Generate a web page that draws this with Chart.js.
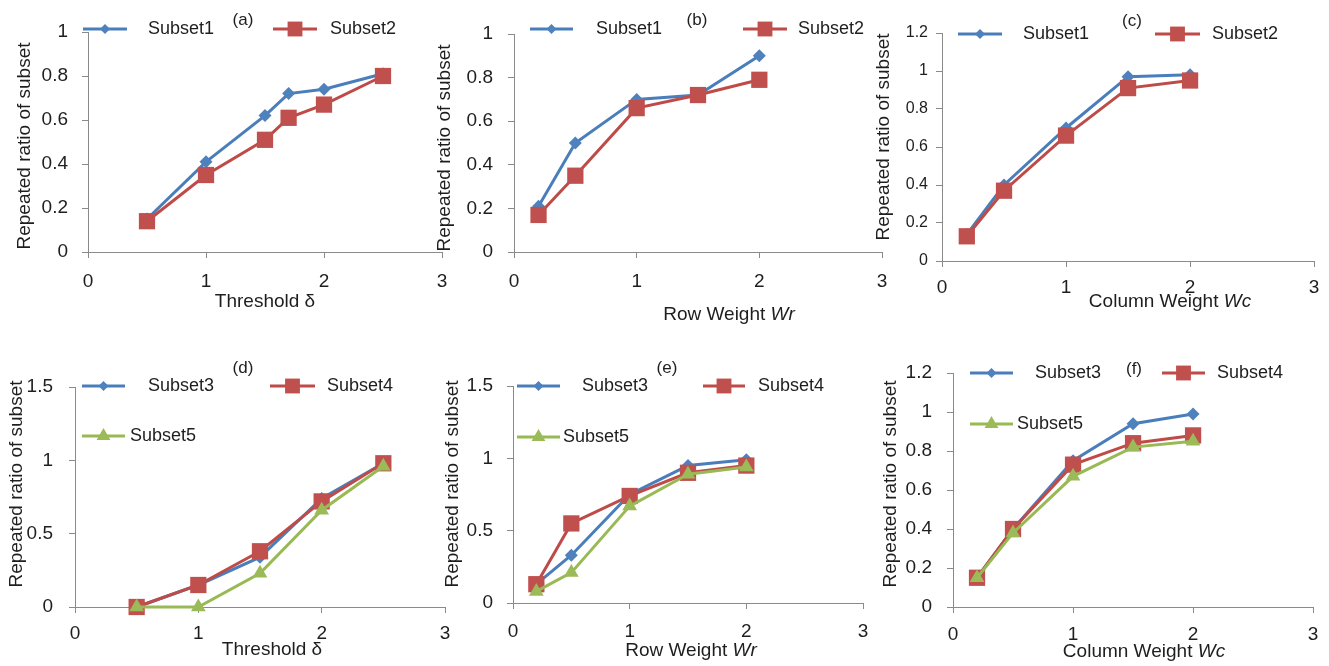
<!DOCTYPE html>
<html>
<head>
<meta charset="utf-8">
<script src="https://cdn.jsdelivr.net/npm/chart.js@4.4.1/dist/chart.umd.min.js"></script>
<style>
html,body{margin:0;padding:0;background:#fff;}
body{width:1329px;height:666px;position:relative;overflow:hidden;}
canvas{position:absolute;left:0;top:0;}
</style>
</head>
<body>
<canvas id="ca" width="1329" height="666"></canvas>
<canvas id="cb" width="1329" height="666"></canvas>
<canvas id="cc" width="1329" height="666"></canvas>
<canvas id="cd" width="1329" height="666"></canvas>
<canvas id="ce" width="1329" height="666"></canvas>
<canvas id="cf" width="1329" height="666"></canvas>
<script>
// ---------- data ----------
const xTicks = [0, 1, 2, 3];
const yTicksA = [0, 0.2, 0.4, 0.6, 0.8, 1];
const yTicksC = [0, 0.2, 0.4, 0.6, 0.8, 1, 1.2];
const yTicksD = [0, 0.5, 1, 1.5];

const thresholdA = [0.5, 1, 1.5, 1.7, 2, 2.5];
const aSubset1 = [0.15, 0.41, 0.62, 0.72, 0.74, 0.81];
const aSubset2 = [0.14, 0.35, 0.51, 0.61, 0.67, 0.80];

const rowWeightB = [0.2, 0.5, 1, 1.5, 2];
const bSubset1 = [0.21, 0.50, 0.70, 0.72, 0.90];
const bSubset2 = [0.17, 0.35, 0.66, 0.72, 0.79];

const colWeightC = [0.2, 0.5, 1, 1.5, 2];
const cSubset1 = [0.14, 0.40, 0.70, 0.97, 0.98];
const cSubset2 = [0.13, 0.37, 0.66, 0.91, 0.95];

const thresholdD = [0.5, 1, 1.5, 2, 2.5];
const dSubset3 = [0, 0.15, 0.34, 0.74, 0.98];
const dSubset4 = [0, 0.15, 0.38, 0.72, 0.98];
const dSubset5 = [0, 0, 0.23, 0.66, 0.96];

const rowWeightE = [0.2, 0.5, 1, 1.5, 2];
const eSubset3 = [0.13, 0.33, 0.75, 0.95, 0.99];
const eSubset4 = [0.13, 0.55, 0.74, 0.90, 0.95];
const eSubset5 = [0.08, 0.21, 0.67, 0.89, 0.94];

const colWeightF = [0.2, 0.5, 1, 1.5, 2];
const fSubset3 = [0.15, 0.40, 0.75, 0.94, 0.99];
const fSubset4 = [0.15, 0.40, 0.73, 0.84, 0.88];
const fSubset5 = [0.15, 0.38, 0.67, 0.82, 0.85];

const yTitleText = 'Repeated ratio of subset';

// ---------- styles ----------
const FONT = '"Liberation Sans", Arial, sans-serif';
const TXT = '#1e1e1e';
const AXIS = '#8a8a8a';
const STY = {
  Subset1: {line:'#4A7EBB', fill:'#4F81BD', shape:'diamond', r:6.5, lr:5},
  Subset3: {line:'#4A7EBB', fill:'#4F81BD', shape:'diamond', r:6.5, lr:5},
  Subset2: {line:'#BE4B48', fill:'#C0504D', shape:'square', r:11.5, lr:10.5},
  Subset4: {line:'#BE4B48', fill:'#C0504D', shape:'square', r:11.5, lr:10.5},
  Subset5: {line:'#98B954', fill:'#9BBB59', shape:'triangle', r:8.5, lr:8}
};
const SHAPE = {diamond:'rectRot', square:'rect', triangle:'triangle'};

function drawMarker(ctx, shape, x, y, r, color) {
  ctx.fillStyle = color;
  ctx.beginPath();
  if (shape === 'diamond') {
    ctx.moveTo(x - r, y); ctx.lineTo(x, y - r); ctx.lineTo(x + r, y); ctx.lineTo(x, y + r);
  } else if (shape === 'square') {
    const s = r * Math.SQRT1_2;
    ctx.rect(x - s, y - s, 2 * s, 2 * s);
  } else {
    ctx.moveTo(x, y - r);
    ctx.lineTo(x + r * Math.sin(2 * Math.PI / 3), y - r * Math.cos(2 * Math.PI / 3));
    ctx.lineTo(x + r * Math.sin(4 * Math.PI / 3), y - r * Math.cos(4 * Math.PI / 3));
  }
  ctx.closePath();
  ctx.fill();
}

function makeAnnot(spec) {
  return {
    id: 'annot' + spec.letter,
    afterDraw(chart) {
      const ctx = chart.ctx;
      ctx.save();
      ctx.fillStyle = TXT;
      ctx.textBaseline = 'middle';
      // y title
      ctx.save();
      ctx.translate(spec.yTitle[0], spec.yTitle[1]);
      ctx.rotate(-Math.PI / 2);
      ctx.font = '19px ' + FONT;
      ctx.textAlign = 'center';
      ctx.fillText(yTitleText, 0, 0);
      ctx.restore();
      // x title (runs with optional italic)
      ctx.textAlign = 'left';
      let total = 0;
      const runs = spec.xTitleRuns.map(([t, it]) => {
        ctx.font = (it ? 'italic ' : '') + '19px ' + FONT;
        const w = ctx.measureText(t).width; total += w; return [t, it, w];
      });
      let xx = spec.xTitle[0] - total / 2;
      runs.forEach(([t, it, w]) => {
        ctx.font = (it ? 'italic ' : '') + '19px ' + FONT;
        ctx.fillStyle = TXT;
        ctx.fillText(t, xx, spec.xTitle[1]);
        xx += w;
      });
      // panel letter
      ctx.font = '17px ' + FONT;
      ctx.textAlign = 'center';
      ctx.fillText(spec.letter, spec.letterPos[0], spec.letterPos[1]);
      // legend
      chart.data.datasets.forEach((ds, i) => {
        const [x0, x1, y, tx] = spec.legend[i];
        const st = STY[ds.label];
        ctx.strokeStyle = st.line; ctx.lineWidth = 3;
        ctx.beginPath(); ctx.moveTo(x0, y); ctx.lineTo(x1, y); ctx.stroke();
        drawMarker(ctx, st.shape, (x0 + x1) / 2, y, st.lr, st.fill);
        ctx.fillStyle = TXT;
        ctx.font = '18px ' + FONT;
        ctx.textAlign = 'left';
        ctx.fillText(ds.label, tx, y);
      });
      ctx.restore();
    }
  };
}

function build(canvasId, spec) {
  const datasets = spec.series.map(([label, vals], i) => {
    const st = STY[label];
    return {
      label,
      data: vals.map((v, k) => ({x: spec.xs[k], y: v})),
      borderColor: st.line,
      backgroundColor: st.fill,
      borderWidth: 3,
      pointStyle: SHAPE[st.shape],
      pointRadius: st.r,
      pointHoverRadius: st.r,
      pointBackgroundColor: st.fill,
      pointBorderColor: st.fill,
      pointBorderWidth: 0,
      tension: 0,
      clip: false,
      order: spec.series.length - i
    };
  });
  const L = spec.plot[0], T = spec.plot[1], R = spec.plot[2], B = spec.plot[3];
  const YW = 60, XH = 40;
  new Chart(document.getElementById(canvasId), {
    type: 'line',
    data: {datasets},
    options: {
      responsive: false,
      animation: false,
      devicePixelRatio: 1,
      events: [],
      layout: {padding: {left: L - YW, top: T, right: 1329 - R, bottom: 666 - B - XH}},
      plugins: {legend: {display: false}, tooltip: {enabled: false}, title: {display: false}},
      scales: {
        x: {
          type: 'linear', min: 0, max: 3,
          afterFit: s => { s.height = XH; },
          afterBuildTicks: s => { s.ticks = xTicks.map(v => ({value: v})); },
          grid: {display: true, drawOnChartArea: false, drawTicks: true, tickLength: 6, color: AXIS, lineWidth: 1},
          border: {display: true, color: AXIS, width: 1},
          ticks: {font: {family: FONT, size: 19}, color: TXT, padding: spec.xTickPad, maxRotation: 0}
        },
        y: {
          type: 'linear', min: 0, max: spec.yTicks[spec.yTicks.length - 1],
          afterFit: s => { s.width = YW; },
          afterBuildTicks: s => { s.ticks = spec.yTicks.map(v => ({value: v})); },
          grid: {display: true, drawOnChartArea: false, drawTicks: true, tickLength: 6, color: AXIS, lineWidth: 1},
          border: {display: true, color: AXIS, width: 1},
          ticks: {font: {family: FONT, size: spec.yTickFont}, color: TXT, padding: spec.yTickPad,
                  callback: v => String(v)}
        }
      }
    },
    plugins: [makeAnnot(spec)]
  });
}

build('ca', {letter:'(a)', xs: thresholdA, series: [['Subset1', aSubset1], ['Subset2', aSubset2]],
  yTicks: yTicksA, plot:[88, 32, 442, 252], yTickFont:19, yTickPad:14, xTickPad:12.6,
  yTitle:[25, 146], xTitle:[265, 302], xTitleRuns:[['Threshold δ', false]], letterPos:[243, 20],
  legend:[[83, 127, 29, 148], [273, 317, 29, 330]]});

build('cb', {letter:'(b)', xs: rowWeightB, series: [['Subset1', bSubset1], ['Subset2', bSubset2]],
  yTicks: yTicksA, plot:[514, 34, 882, 252], yTickFont:19, yTickPad:15, xTickPad:12.6,
  yTitle:[445, 148], xTitle:[729, 315], xTitleRuns:[['Row Weight ', false], ['Wr', true]], letterPos:[697, 20],
  legend:[[530, 573, 29, 596], [743, 787, 29, 798]]});

build('cc', {letter:'(c)', xs: colWeightC, series: [['Subset1', cSubset1], ['Subset2', cSubset2]],
  yTicks: yTicksC, plot:[942, 33, 1315, 261], yTickFont:16, yTickPad:8, xTickPad:9.6,
  yTitle:[884, 137], xTitle:[1170, 302], xTitleRuns:[['Column Weight ', false], ['Wc', true]], letterPos:[1132, 21],
  legend:[[958, 1002, 34, 1023], [1155, 1200, 34, 1212]]});

build('cd', {letter:'(d)', xs: thresholdD, series: [['Subset3', dSubset3], ['Subset4', dSubset4], ['Subset5', dSubset5]],
  yTicks: yTicksD, plot:[75, 387, 445, 607], yTickFont:19, yTickPad:16, xTickPad:9.6,
  yTitle:[17, 484], xTitle:[272, 650], xTitleRuns:[['Threshold δ', false]], letterPos:[243, 368],
  legend:[[82, 125, 386, 148], [270, 315, 386, 327], [82, 125, 436, 130]]});

build('ce', {letter:'(e)', xs: rowWeightE, series: [['Subset3', eSubset3], ['Subset4', eSubset4], ['Subset5', eSubset5]],
  yTicks: yTicksD, plot:[513, 386, 863, 603], yTickFont:19, yTickPad:14, xTickPad:11.6,
  yTitle:[453, 484], xTitle:[691, 651], xTitleRuns:[['Row Weight ', false], ['Wr', true]], letterPos:[667, 368],
  legend:[[517, 560, 386, 582], [703, 745, 386, 758], [517, 560, 437, 563]]});

build('cf', {letter:'(f)', xs: colWeightF, series: [['Subset3', fSubset3], ['Subset4', fSubset4], ['Subset5', fSubset5]],
  yTicks: yTicksC, plot:[953, 373, 1315, 607], yTickFont:19, yTickPad:15, xTickPad:10.6,
  yTitle:[891, 484], xTitle:[1144, 652], xTitleRuns:[['Column Weight ', false], ['Wc', true]], letterPos:[1134, 369],
  legend:[[970, 1013, 373, 1035], [1162, 1205, 373, 1217], [970, 1013, 424, 1017]]});
</script>
</body>
</html>
